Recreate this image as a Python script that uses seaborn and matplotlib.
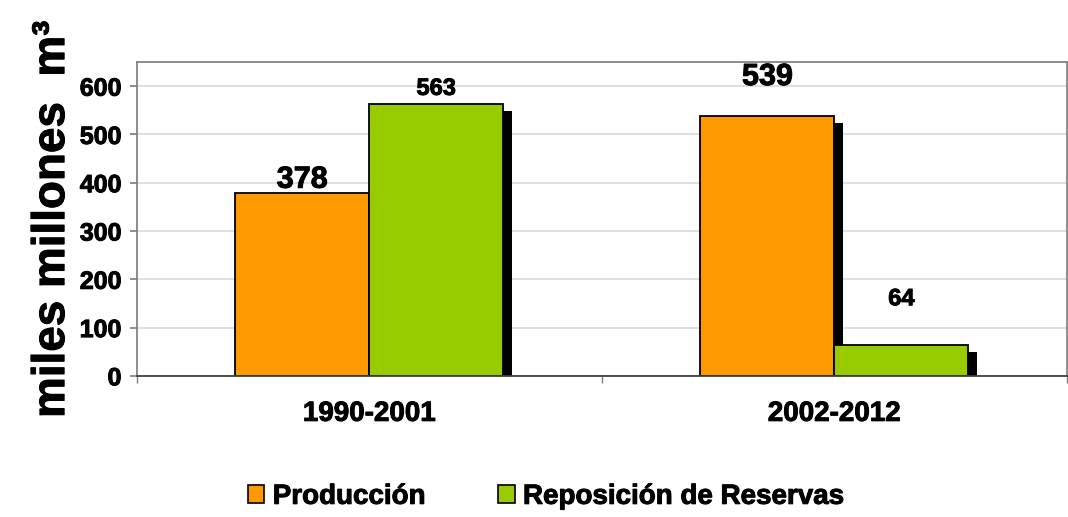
import pandas as pd
import numpy as np
import matplotlib
matplotlib.use('Agg')
import matplotlib.pyplot as plt
import matplotlib.patheffects as pe
from matplotlib.patches import Patch
import seaborn as sns

# datos
periodos = ['1990-2001', '2002-2012']
series = ['Producción', 'Reposición de Reservas']
produccion = [378, 539]
reposicion = [563, 64]
colores = ['#FF9900', '#99CC00']

df = pd.DataFrame({
    'periodo': periodos * 2,
    'serie': [series[0]] * 2 + [series[1]] * 2,
    'valor': produccion + reposicion,
})

sns.set_theme(style='white')
plt.rcParams['font.family'] = ['Liberation Sans', 'DejaVu Sans']
plt.rcParams['font.weight'] = 'bold'
plt.rcParams['text.color'] = 'black'
plt.rcParams['xtick.color'] = 'black'
plt.rcParams['ytick.color'] = 'black'
plt.rcParams['axes.labelcolor'] = 'black'

grueso = [pe.withStroke(linewidth=0.7, foreground='black')]

fig = plt.figure(figsize=(10.68, 5.17), dpi=100)
ax = fig.add_axes([0.128, 0.273, 0.871, 0.607])

sns.barplot(data=df, x='periodo', y='valor', hue='serie', palette=colores, saturation=1,
            width=0.576, edgecolor='black', linewidth=1.3, ax=ax, legend=False)

# sombra negra tipo Excel
for p in ax.patches:
    p.set_path_effects([pe.SimplePatchShadow(offset=(6, -5), shadow_rgbFace='black', alpha=1),
                        pe.Normal()])

ax.set_xlim(-0.5, 1.5)
ax.set_ylim(0, 650)
ax.set_yticks(range(0, 601, 100))
ax.yaxis.grid(True, color='#d9d9d9', linewidth=1.2)
ax.set_axisbelow(True)
for s in ['top', 'left', 'right']:
    ax.spines[s].set_color('#808080')
ax.spines['bottom'].set_color('#404040')
ax.spines['bottom'].set_linewidth(1.3)

ax.tick_params(axis='y', left=True, length=5, color='#808080', labelsize=18, pad=6)
ax.tick_params(axis='x', bottom=False, labelsize=20, pad=12)
ax.set_xticks([-0.5, 0.5, 1.5], minor=True)
ax.tick_params(axis='x', which='minor', bottom=True, length=5, color='#808080')
for t in ax.get_xticklabels() + ax.get_yticklabels():
    t.set_fontweight('bold')
    t.set_path_effects(grueso)

ax.set_xlabel('')
ax.set_ylabel('miles millones  m³', fontsize=33, fontweight='bold', labelpad=4)
ax.yaxis.label.set_path_effects(grueso)

# etiquetas de valores
tam = [[22, 17], [22, 17]]
despl = [[-1, 3], [17, 25]]
barras = ax.patches
for j, serie_vals in enumerate([produccion, reposicion]):
    for i, v in enumerate(serie_vals):
        b = barras[j * len(periodos) + i]
        xc = b.get_x() + b.get_width() / 2
        ax.annotate(str(v), (xc, v), xytext=(0, despl[i][j]), textcoords='offset points',
                    ha='center', va='bottom', fontsize=tam[i][j], fontweight='bold',
                    path_effects=grueso)

handles = [Patch(facecolor=c, edgecolor='black', linewidth=1.2) for c in colores]
leg = fig.legend(handles, series, loc='center', bbox_to_anchor=(0.511, 0.039), ncol=2,
                 frameon=False, handlelength=0.6, handleheight=0.6,
                 handletextpad=0.3, columnspacing=2.6, prop={'weight': 'bold', 'size': 20})
for t in leg.get_texts():
    t.set_path_effects(grueso)

fig.savefig('out.png', dpi=100)
